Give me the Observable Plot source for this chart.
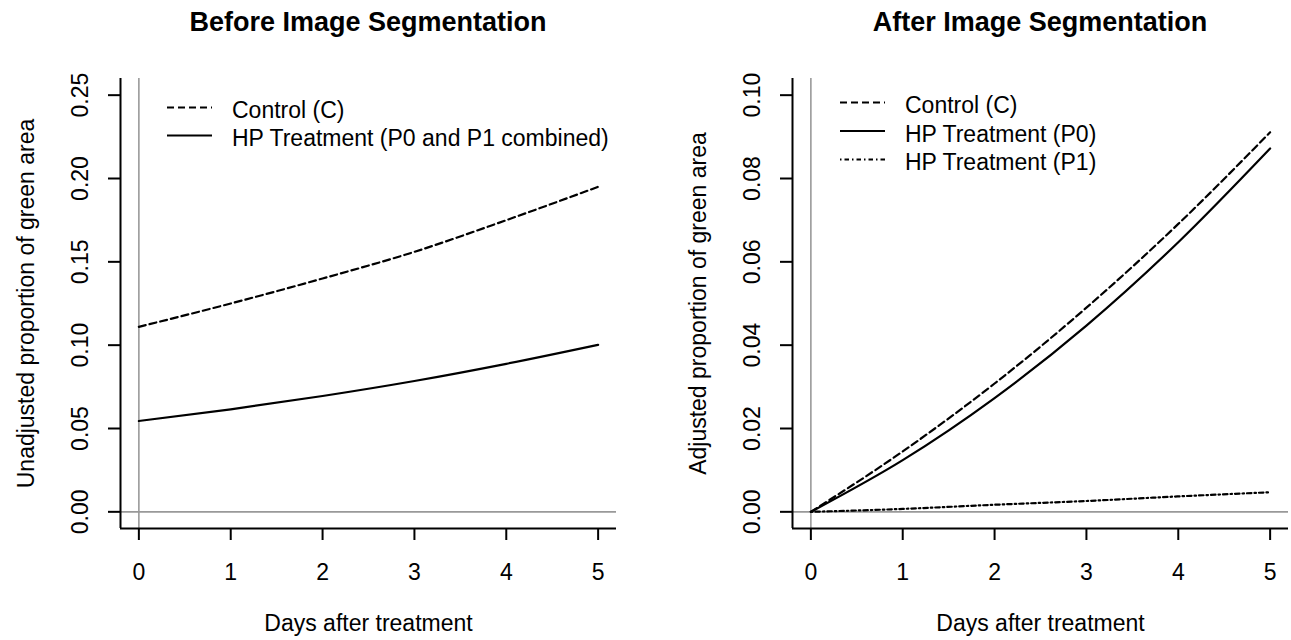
<!DOCTYPE html>
<html>
<head>
<meta charset="utf-8">
<script src="https://cdn.jsdelivr.net/npm/d3@7"></script>
<script src="https://cdn.jsdelivr.net/npm/@observablehq/plot@0.6"></script>
<style>
  html, body { margin: 0; padding: 0; background: #fff; }
  body { font-family: "Liberation Sans", Arial, sans-serif; color: #000; }
  #wrap { position: relative; width: 1291px; height: 640px; overflow: hidden; }
  .panel { position: absolute; top: 0; height: 640px; }
  .title { position: absolute; top: 9px; height: 30px; line-height: 27px; font-size: 27px; font-weight: bold; text-align: center; white-space: nowrap; }
  .chart { position: absolute; top: 60px; left: 0; }
  .legend { position: absolute; top: 0; left: 0; overflow: visible; }
</style>
</head>
<body>
<div id="wrap"></div>
<script>
// ---------------- data ----------------
const days = [0, 1, 2, 3, 4, 5];
const xTicks = [0, 1, 2, 3, 4, 5];

// Before image segmentation (unadjusted proportion)
const beforeControl = [0.111, 0.125, 0.140, 0.156, 0.175, 0.195];
const beforeHP      = [0.0545, 0.0615, 0.0695, 0.0785, 0.0888, 0.1002];
const beforeYTicks  = [0.00, 0.05, 0.10, 0.15, 0.20, 0.25];

// After image segmentation (adjusted proportion)
const afterControl = [0, 0.0145, 0.0308, 0.0490, 0.0691, 0.0911];
const afterP0      = [0, 0.0124, 0.0273, 0.0447, 0.0647, 0.0872];
const afterP1      = [0, 0.0007, 0.0017, 0.0026, 0.0037, 0.0047];
const afterYTicks  = [0.00, 0.02, 0.04, 0.06, 0.08, 0.10];

const titles = ["Before Image Segmentation", "After Image Segmentation"];
const xLabel = "Days after treatment";
const yLabels = ["Unadjusted proportion of green area", "Adjusted proportion of green area"];
const legendBefore = ["Control (C)", "HP Treatment (P0 and P1 combined)"];
const legendAfter  = ["Control (C)", "HP Treatment (P0)", "HP Treatment (P1)"];

// ---------------- styles ----------------
const DASH = "7,4";
const DOTDASH = "1.5,3,4.5,3";
const FONT = "'Liberation Sans', Arial, sans-serif";

function makePanel({left, width, marginLeft, marginRight, yDomain, yTicks, series, yLabel, title, legend}) {
  const wrap = document.getElementById("wrap");
  const div = document.createElement("div");
  div.className = "panel";
  div.style.left = left + "px";
  div.style.width = width + "px";
  wrap.appendChild(div);

  const t = document.createElement("div");
  t.className = "title";
  t.style.left = marginLeft + "px";
  t.style.width = (width - marginLeft - marginRight) + "px";
  t.textContent = title;
  div.appendChild(t);

  const xDomain = [-0.2, 5.2];
  const chart = Plot.plot({
    width, height: 580,
    marginTop: 18, marginBottom: 112, marginLeft, marginRight,
    x: {domain: xDomain},
    y: {domain: yDomain},
    style: {fontFamily: FONT, fontSize: "22px", color: "#000", background: "#fff", overflow: "visible"},
    marks: [
      Plot.ruleX([0], {stroke: "#999", strokeWidth: 1.6}),
      Plot.ruleY([0], {stroke: "#999", strokeWidth: 1.6}),
      ...series.map(s => Plot.line(days.map((d, i) => ({day: d, value: s.values[i]})), {
        x: "day", y: "value", stroke: "#000", strokeWidth: 2.2,
        strokeDasharray: s.dash, curve: "monotone-x"
      })),
      Plot.ruleX([xDomain[0]], {stroke: "#000", strokeWidth: 2}),
      Plot.ruleY([yDomain[0]], {stroke: "#000", strokeWidth: 2}),
      Plot.axisX({ticks: xTicks, tickSize: 12, tickPadding: 23, tickFormat: d => String(d), label: null, strokeWidth: 2, fontSize: 23}),
      Plot.axisY({ticks: yTicks, tickSize: 12, tickPadding: 21, tickRotate: -90, tickFormat: d3.format(".2f"), label: null, strokeWidth: 2, fontSize: 23}),
      Plot.text([xLabel], {frameAnchor: "bottom", dy: 102, lineAnchor: "bottom", textAnchor: "middle", fontSize: 23}),
      Plot.text([yLabel], {frameAnchor: "left", dx: -87, rotate: -90, lineAnchor: "bottom", textAnchor: "middle", fontSize: 23})
    ]
  });
  chart.classList.add("chart");
  div.appendChild(chart);

  // legend (inside plot area, top-left)
  const svg = d3.select(div).append("svg")
    .attr("class", "legend").attr("width", width).attr("height", 200);
  legend.items.forEach((it, i) => {
    const base = legend.y0 + i * legend.step;
    svg.append("line")
      .attr("x1", legend.x1).attr("x2", legend.x2)
      .attr("y1", base - 10.5).attr("y2", base - 10.5)
      .attr("stroke", "#000").attr("stroke-width", 2)
      .attr("stroke-dasharray", it.dash || null);
    svg.append("text")
      .attr("x", legend.tx).attr("y", base)
      .attr("font-family", FONT).attr("font-size", 23).attr("fill", "#000")
      .text(it.label);
  });
}

makePanel({
  left: 0, width: 646, marginLeft: 120, marginRight: 30,
  yDomain: [-0.01, 0.26], yTicks: beforeYTicks,
  series: [{values: beforeControl, dash: DASH}, {values: beforeHP, dash: null}],
  yLabel: yLabels[0], title: titles[0],
  legend: {x1: 167, x2: 212, tx: 232, y0: 118, step: 28,
    items: [{label: legendBefore[0], dash: DASH}, {label: legendBefore[1], dash: null}]}
});

makePanel({
  left: 646, width: 645, marginLeft: 146, marginRight: 3,
  yDomain: [-0.004, 0.104], yTicks: afterYTicks,
  series: [{values: afterControl, dash: DASH}, {values: afterP0, dash: null}, {values: afterP1, dash: DOTDASH}],
  yLabel: yLabels[1], title: titles[1],
  legend: {x1: 194, x2: 239, tx: 259, y0: 113, step: 28.5,
    items: [{label: legendAfter[0], dash: DASH}, {label: legendAfter[1], dash: null}, {label: legendAfter[2], dash: DOTDASH}]}
});
</script>
</body>
</html>
